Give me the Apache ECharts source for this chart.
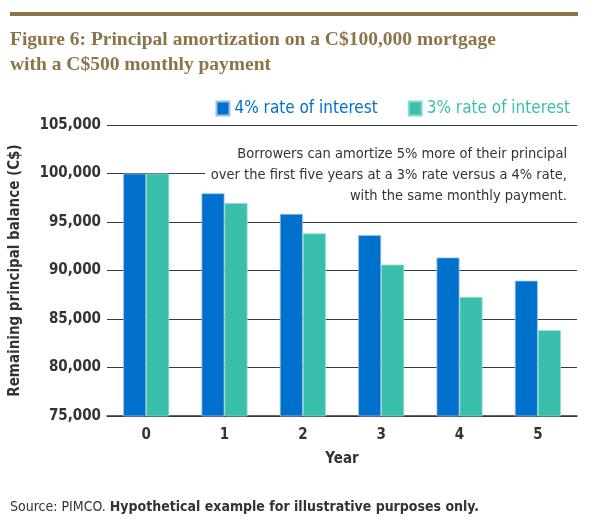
<!DOCTYPE html>
<html>
<head>
<meta charset="utf-8">
<script src="https://cdn.jsdelivr.net/npm/echarts@6/dist/echarts.min.js"></script>
<style>
html,body{margin:0;padding:0;background:#fff;}
#main{width:590px;height:525px;}
</style>
</head>
<body>
<div id="main"></div>
<script>
var years = ['0', '1', '2', '3', '4', '5'];
var rate4 = [100000, 97960, 95840, 93640, 91340, 88950];
var rate3 = [100000, 96960, 93820, 90600, 87270, 83840];
var yTicks = [75000, 80000, 85000, 90000, 95000, 100000, 105000];

var chart = echarts.init(document.getElementById('main'));
var narrow = '"Liberation Sans Narrow", "DejaVu Sans Condensed", "Liberation Sans", sans-serif';
var blue = '#0070cd';
var green = '#3bbfad';

var option = {
	animation: false,
	backgroundColor: '#fff',
	textStyle: { fontFamily: narrow },
	graphic: [
		{ type: 'rect', shape: { x: 10, y: 12, width: 568, height: 4 }, style: { fill: '#8c7449' } },
		{ type: 'text', left: 10, top: 27, style: {
			text: 'Figure 6: Principal amortization on a C$100,000 mortgage\nwith a C$500 monthly payment',
			font: 'bold 19.5px "Liberation Serif", serif', fill: '#8c7449', lineHeight: 25 } },
		// white strip so the gridline stops where the note's middle line starts
		{ type: 'rect', z: 99, shape: { x: 205, y: 168, width: 380, height: 11 }, style: { fill: '#fff' } },
		{ type: 'text', x: 567, y: 144, z: 100, style: {
			text: 'Borrowers can amortize 5% more of their principal\nover the first five years at a 3% rate versus a 4% rate,\nwith the same monthly payment.',
			font: '14.5px ' + narrow, fill: '#333', align: 'right', lineHeight: 21 } },
		{ type: 'text', left: 10, top: 500, style: {
			rich: {
				a: { font: '14px ' + narrow, fill: '#333' },
				b: { font: 'bold 14px ' + narrow, fill: '#333' }
			},
			text: '{a|Source: PIMCO. }{b|Hypothetical example for illustrative purposes only.}' } }
	],
	legend: {
		right: 15, top: 95,
		itemWidth: 13, itemHeight: 14, itemGap: 30,
		icon: 'rect',
		data: ['4% rate of interest', '3% rate of interest'],
		textStyle: { fontSize: 17, fontFamily: narrow, color: 'inherit' }
	},
	grid: { left: 105, right: 13, top: 125, bottom: 109 },
	xAxis: {
		type: 'category',
		data: years,
		name: 'Year', nameLocation: 'middle', nameGap: 36,
		nameTextStyle: { fontSize: 15, fontWeight: 'bold', color: '#333', fontFamily: narrow },
		axisLine: { lineStyle: { color: '#333', width: 1.5 } },
		axisTick: { show: false },
		axisLabel: { fontSize: 15, fontWeight: 'bold', color: '#333', margin: 12 }
	},
	yAxis: {
		type: 'value',
		min: yTicks[0], max: yTicks[yTicks.length - 1], interval: 5000,
		name: 'Remaining principal balance (C$)', nameLocation: 'middle', nameGap: 84,
		nameTextStyle: { fontSize: 15, fontWeight: 'bold', color: '#333', fontFamily: narrow },
		axisLine: { show: false },
		axisTick: { show: false },
		axisLabel: {
			fontSize: 15, fontWeight: 'bold', color: '#333', margin: 6,
			formatter: function (v) { return v.toLocaleString('en-US'); }
		},
		splitLine: { lineStyle: { color: '#3a3a3a', width: 1.2 } }
	},
	series: [
		{ name: '4% rate of interest', type: 'bar', data: rate4, barWidth: 23, barGap: '0%',
		  itemStyle: { color: blue, borderColor: '#9fbfe8', borderWidth: 0.8 } },
		{ name: '3% rate of interest', type: 'bar', data: rate3, barWidth: 23,
		  itemStyle: { color: green, borderColor: '#8fd8cd', borderWidth: 0.8 } }
	]
};
chart.setOption(option);
window.onresize = function () { chart.resize(); };
</script>
</body>
</html>
